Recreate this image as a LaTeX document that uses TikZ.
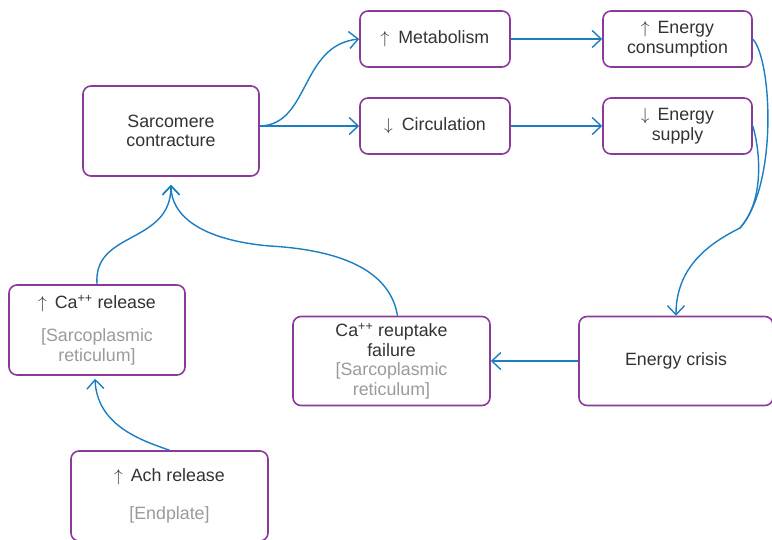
\documentclass[tikz,border=0pt]{standalone}
\usepackage{fontspec}
\setmainfont{Liberation Sans}
\usepackage{xcolor}
\usepackage{tikz}
\usetikzlibrary{arrows.meta, calc}

\definecolor{boxpurple}{HTML}{8A3A9A}
\definecolor{flowblue}{HTML}{1B7EC2}
\definecolor{txtgray}{HTML}{333333}
\definecolor{subgray}{HTML}{9B9B9B}

\begin{document}
\begin{tikzpicture}[x=1pt, y=-1pt,
    box/.style={draw=boxpurple, line width=1.6pt, rounded corners=8pt, fill=white,
        align=center, text=txtgray, inner sep=0pt, font=\fontsize{17.8}{19.5}\selectfont},
    flow/.style={flowblue, line width=1.4pt, -{Straight Barb[length=9pt, width=17pt]}},
    flowline/.style={flowblue, line width=1.4pt}]
    \useasboundingbox (0,0) rectangle (772,539);

    % Boxes
    \node[box, minimum width=176, minimum height=90] (sarc) at (171,131) {Sarcomere\\contracture};
    \node[box, minimum width=150, minimum height=56] (metab) at (435,39) {$\uparrow$\hspace{9pt}Metabolism};
    \node[box, minimum width=150, minimum height=56] (circ) at (435,126) {$\downarrow$\hspace{9pt}Circulation};
    \node[box, minimum width=149, minimum height=56] (cons) at (677.5,39) {$\uparrow$\hspace{8pt}Energy\\consumption};
    \node[box, minimum width=149, minimum height=56] (supply) at (677.5,126) {$\downarrow$\hspace{8pt}Energy\\supply};
    \node[box, minimum width=194, minimum height=89] (crisis) at (676,361) {Energy crisis};
    \node[box, minimum width=197, minimum height=89] (reupt) at (391.5,361)
        {Ca\textsuperscript{++} reuptake\\failure\\\textcolor{subgray}{[Sarcoplasmic}\\\textcolor{subgray}{reticulum]}};
    \node[box, minimum width=176, minimum height=90] (carel) at (97,330)
        {$\uparrow$\hspace{8pt}Ca\textsuperscript{++} release\\[14pt]\textcolor{subgray}{[Sarcoplasmic}\\\textcolor{subgray}{reticulum]}};
    \node[box, minimum width=197, minimum height=90] (achrel) at (169.5,496)
        {$\uparrow$\hspace{8pt}Ach release\\[18pt]\textcolor{subgray}{[Endplate]}};

    % Ends of the arrows
    \coordinate (sarcin) at ([yshift=-8pt]sarc.south);
    \coordinate (carelin) at ([xshift=-2pt, yshift=-3pt]carel.south);
    \coordinate (merge) at (740,228);

    % Arrows
    \draw[flow] (sarc.east |- circ.west) .. controls (310,125) and (300,45) .. (metab.west);
    \draw[flow] (sarc.east |- circ.west) -- (circ.west);
    \draw[flow] (metab.east) -- (cons.west);
    \draw[flow] (circ.east) -- (supply.west);
    \draw[flow] (cons.east) .. controls (772,60) and (778,185) .. (merge)
        .. controls (712,242) and (676,265) .. (crisis.north);
    \draw[flowline] (supply.east) .. controls (760,150) and (765,200) .. (merge);
    \draw[flow] (crisis.west) -- (reupt.east);
    \draw[flow] ([xshift=6pt]reupt.north) .. controls (390,270) and (340,250) .. (270,246)
        .. controls (200,240) and (171,215) .. (sarcin);
    \draw[flow] (carel.north) .. controls (93,230) and (171,245) .. (sarcin);
    \draw[flow] (achrel.north) .. controls (140,440) and (97,425) .. (carelin);
\end{tikzpicture}
\end{document}
